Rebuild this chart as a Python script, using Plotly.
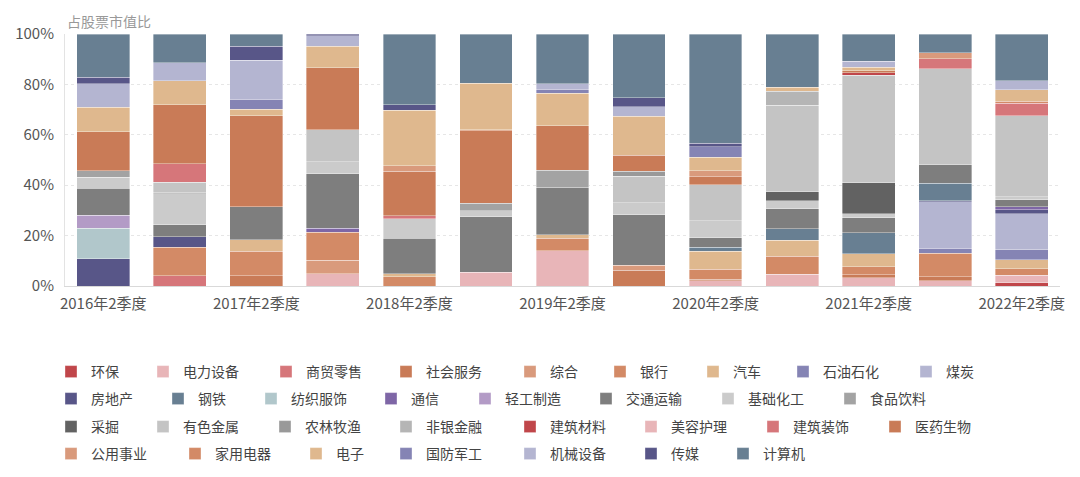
import plotly.graph_objects as go

quarters = ["2016年2季度", "2016年4季度", "2017年2季度", "2017年4季度", "2018年2季度", "2018年4季度",
            "2019年2季度", "2019年4季度", "2020年2季度", "2020年4季度", "2021年2季度", "2021年4季度", "2022年2季度"]
tick_labels = ["2016年2季度", "2017年2季度", "2018年2季度", "2019年2季度", "2020年2季度", "2021年2季度", "2022年2季度"]
y_ticks = [0, 20, 40, 60, 80, 100]
y_tick_labels = ["0%", "20%", "40%", "60%", "80%", "100%"]

industries = ["环保", "电力设备", "商贸零售", "社会服务", "综合", "银行", "汽车", "石油石化", "煤炭",
              "房地产", "钢铁", "纺织服饰", "通信", "轻工制造", "交通运输", "基础化工", "食品饮料",
              "采掘", "有色金属", "农林牧渔", "非银金融", "建筑材料", "美容护理", "建筑装饰", "医药生物",
              "公用事业", "家用电器", "电子", "国防军工", "机械设备", "传媒", "计算机"]

# share of stock market value (%) per half-year, in legend (stacking) order
huanbao     = [0, 0, 0, 0, 0, 0, 0, 0, 0, 0, 0, 0, 1.2]
dianli      = [0, 0, 0, 4.9, 0, 5.4, 14.0, 0, 2.1, 4.6, 3.2, 2.1, 3.0]
shangmao    = [0, 4.1, 0, 0, 0, 0, 0, 0, 0, 0, 0, 0, 0]
shehui      = [0, 0, 4.0, 0, 0, 0, 0, 6.2, 0.5, 0, 1.2, 1.6, 0]
zonghe      = [0, 0, 0, 5.3, 0, 0, 0, 2.1, 0, 0, 0, 0, 0]
yinhang     = [0, 11.2, 9.8, 11.1, 3.7, 0, 5.0, 0, 4.1, 7.3, 3.2, 9.3, 2.6]
qiche       = [0, 0, 4.5, 0, 1.2, 0, 1.3, 0, 7.0, 6.3, 5.2, 0, 3.7]
shiyou      = [0, 0, 0, 0, 0, 0, 0, 0, 0, 0, 0, 1.9, 3.8]
meitan      = [0, 0, 0, 0, 0, 0, 0, 0, 0, 0, 0, 18.5, 14.3]
fangdichan  = [10.8, 4.2, 0, 0, 0, 0, 0, 0, 0, 0, 0, 0.5, 1.6]
gangtie     = [0, 0, 0, 0, 0, 0, 0, 0, 1.7, 4.6, 8.3, 6.9, 0]
fangzhi     = [12.2, 0, 0, 0, 0, 0, 0, 0, 0, 0, 0, 0, 0]
tongxin     = [0, 0, 0, 1.6, 0, 0, 0, 0, 0, 0, 0, 0, 1.2]
qinggong    = [5.0, 0, 0, 0, 0, 0, 0, 0, 0, 0, 0, 0, 0]
jiaotong    = [10.8, 4.8, 13.1, 21.7, 14.0, 22.0, 18.9, 20.0, 3.8, 7.9, 6.0, 7.3, 2.8]
jichu       = [4.4, 12.3, 0, 4.8, 7.8, 2.5, 0, 4.8, 6.7, 3.2, 1.5, 0, 1.3]
shipin      = [2.6, 0.7, 0, 0, 0, 3.0, 6.7, 0, 0, 0, 0, 0, 0]
caijue      = [0, 0, 0, 0, 0, 0, 0, 0, 0, 3.6, 12.4, 0, 0]
youse       = [0, 3.8, 0, 12.7, 0, 0, 0, 10.4, 14.2, 34.3, 42.7, 38.2, 32.1]
nonglin     = [0, 0, 0, 0, 0, 0, 0, 2.0, 0, 0, 0, 0, 0]
feiyin      = [0, 0, 0, 0, 0, 0, 0, 0, 0, 5.4, 0, 0, 0]
jiancai     = [0, 0, 0, 0, 0, 0, 0, 0, 0, 0, 0.9, 0, 0]
meirong     = [0, 0, 0, 0, 0, 0, 0, 0, 0, 0, 0, 0, 0]
jianzhuang  = [0, 7.4, 0, 0, 1.2, 0, 0, 0, 0, 0, 0, 3.8, 4.9]
yiyao       = [15.5, 23.4, 36.2, 24.5, 17.6, 28.7, 17.7, 6.3, 3.3, 0, 0.9, 0, 0]
gongyong    = [0, 0, 0, 0, 2.2, 0, 0, 0, 2.4, 0, 0, 2.5, 0]
jiadian     = [0, 0, 0, 0, 0, 0.5, 0, 0, 0, 0, 0, 0, 0.9]
dianzi      = [9.7, 9.5, 2.6, 8.5, 22.1, 18.4, 12.8, 15.5, 5.2, 1.7, 1.3, 0, 4.4]
guofang     = [0, 0, 4.0, 0, 0, 0, 1.7, 0, 4.2, 0, 0, 0, 0]
jixie       = [9.3, 7.1, 15.3, 4.2, 0, 0, 2.1, 3.8, 0, 0, 2.4, 0, 3.6]
chuanmei    = [2.6, 0, 5.7, 0.7, 2.2, 0, 0, 3.6, 1.5, 0, 0, 0, 0]
jisuanji    = [17.1, 11.5, 4.8, 0, 28.0, 19.5, 19.8, 25.3, 43.3, 21.1, 10.8, 7.4, 18.6]

series_values = [huanbao, dianli, shangmao, shehui, zonghe, yinhang, qiche, shiyou, meitan,
                 fangdichan, gangtie, fangzhi, tongxin, qinggong, jiaotong, jichu, shipin,
                 caijue, youse, nonglin, feiyin, jiancai, meirong, jianzhuang, yiyao,
                 gongyong, jiadian, dianzi, guofang, jixie, chuanmei, jisuanji]

palette = ["#c0464a", "#e8b5b8", "#d6767a", "#c97b57", "#d99a7c", "#d38a66", "#dfb88e",
           "#8584b4", "#b4b5d1", "#585688", "#687f92", "#b1c7cb", "#7e66a6", "#b39bc6",
           "#7e7e7e", "#cbcbcb", "#a3a3a3", "#626262", "#c4c4c4", "#999999", "#b5b5b5"]

FONT = "Noto Sans CJK SC, sans-serif"

# legend layout (swatch left edge in window px, row index)
legend_slots = [(68, 0), (160, 0), (283, 0), (403, 0), (527, 0), (617, 0), (710, 0), (800, 0), (923, 0),
                (68, 1), (175, 1), (268, 1), (388, 1), (482, 1), (603, 1), (725, 1), (847, 1),
                (68, 2), (160, 2), (282, 2), (403, 2), (527, 2), (648, 2), (770, 2), (892, 2),
                (68, 3), (192, 3), (313, 3), (403, 3), (527, 3), (648, 3), (740, 3)]
row_y = [372, 399, 427, 454]

OFF = 8  # page body margin
ML, MT = 65 - OFF, 34 - OFF
W, H = 1080 - OFF, 477 - OFF
PW, PH = 995, 252
MR = W - ML - PW
MB = H - MT - PH

fig = go.Figure()
layout_legends = {}
for i, (name, vals) in enumerate(zip(industries, series_values)):
    lid = "legend" if i == 0 else f"legend{i + 1}"
    fig.add_trace(go.Bar(
        x=quarters,
        y=[v if v > 0 else None for v in vals],
        name=name,
        legend=lid,
        showlegend=True,
        marker=dict(color=palette[i % len(palette)],
                    line=dict(color="rgba(255,255,255,0.6)", width=0.6)),
        hovertemplate="%{x}<br>" + name + ": %{y}%<extra></extra>",
    ))
    px, row = legend_slots[i]
    layout_legends[lid] = dict(
        x=(px - OFF - 17 - ML) / PW, xanchor="left",
        y=(MT + PH - (row_y[row] - OFF)) / PH, yanchor="middle",
        orientation="h", bgcolor="rgba(0,0,0,0)", borderwidth=0,
        font=dict(family=FONT, size=14, color="#444"),
    )

fig.update_layout(
    width=W, height=H,
    showlegend=True,
    barmode="stack",
    bargap=0.31,
    paper_bgcolor="white",
    plot_bgcolor="white",
    margin=dict(l=ML, r=MR, t=MT, b=MB, autoexpand=False),
    font=dict(family=FONT, size=13, color="#555"),
    xaxis=dict(
        type="category",
        tickvals=tick_labels,
        ticktext=tick_labels,
        tickfont=dict(size=15, color="#555"),
        ticklabelstandoff=4,
        showline=True, linecolor="#d9d9d9", linewidth=1,
        ticks="", showgrid=False,
    ),
    yaxis=dict(
        range=[0, 100],
        tickvals=y_ticks,
        ticktext=y_tick_labels,
        tickfont=dict(size=15, color="#555"),
        ticklabelstandoff=7,
        showgrid=True, gridcolor="#e6e6e6", griddash="dot", gridwidth=1,
        showline=True, linecolor="#e3e3e3", linewidth=1,
        ticks="", zeroline=False,
    ),
    annotations=[dict(
        text="占股票市值比", xref="paper", yref="paper", x=0, y=1, yshift=1,
        xanchor="left", yanchor="bottom", showarrow=False,
        font=dict(family=FONT, size=14, color="#999"),
    )],
    **layout_legends,
)

fig.write_html("out.html")
